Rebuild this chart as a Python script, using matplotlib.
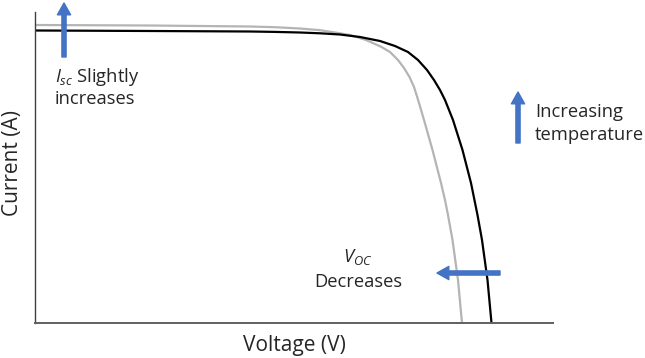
import matplotlib
matplotlib.use("Agg")
import matplotlib.pyplot as plt

v_cool = [0.0, 11.5, 21.5, 24.0, 26.5, 28.5, 30.5, 32.5, 34.5, 36.0, 37.3,
          38.3, 39.2, 39.9, 40.5, 41.0, 41.8, 42.75, 43.6, 44.25, 44.7,
          45.25, 45.65]
i_cool = [29.25, 29.2, 29.15, 29.11, 29.05, 28.97, 28.85, 28.6, 28.2, 27.7,
          27.1, 26.3, 25.3, 24.3, 23.3, 22.3, 20.3, 17.3, 14.0, 10.8, 8.3,
          4.3, 0.0]

v_hot = [0.0, 11.5, 21.5, 24.0, 26.5, 28.5, 30.0, 31.5, 33.1, 34.6, 35.5,
         36.3, 36.9, 37.45, 37.9, 38.22, 38.55, 38.9, 39.75, 40.6, 41.0,
         41.3, 41.75, 42.3, 42.7]
i_hot = [29.8, 29.75, 29.65, 29.58, 29.45, 29.28, 29.05, 28.8, 28.3, 27.63,
         27.1, 26.3, 25.5, 24.6, 23.6, 22.6, 21.5, 20.3, 17.3, 14.0, 12.3,
         10.8, 8.3, 4.3, 0.0]

blue = "#4472C4"
txt = "#262626"
font = "Open Sans"

plt.rcParams["font.family"] = font
plt.rcParams["mathtext.fontset"] = "custom"
plt.rcParams["mathtext.it"] = font + ":italic"
plt.rcParams["mathtext.rm"] = font

fig = plt.figure(figsize=(6.45, 3.58), dpi=100)
ax = fig.add_axes([35 / 645, 35 / 358, 518 / 645, 311 / 358])

ax.plot(v_hot, i_hot, color="#b4b4b4", lw=1.6, solid_joinstyle="round")
ax.plot(v_cool, i_cool, color="black", lw=1.6, solid_joinstyle="round")

ax.set_xlim(0, 51.8)
ax.set_ylim(0, 31.1)
ax.set_xticks([])
ax.set_yticks([])
for side in ("top", "right"):
    ax.spines[side].set_visible(False)
ax.spines["left"].set_color("#404040")
ax.spines["left"].set_linewidth(1.0)
ax.spines["bottom"].set_color("#606060")
ax.spines["bottom"].set_linewidth(1.4)

arrow = dict(arrowstyle="simple,head_width=0.95,head_length=0.85,tail_width=0.3",
             color=blue, shrinkA=0, shrinkB=0, mutation_scale=10)
fs = 13.2

# Isc goes up slightly
ax.annotate("", xy=(2.9, 32.0), xytext=(2.9, 26.6), arrowprops=arrow,
            annotation_clip=False)
ax.text(2.0, 24.6, r"$I_{sc}$ Slightly", fontsize=fs, color=txt,
        va="center", ha="left")
ax.text(2.0, 22.4, "increases", fontsize=fs, color=txt,
        va="center", ha="left")

# temperature rises
ax.annotate("", xy=(48.3, 23.1), xytext=(48.3, 18.0), arrowprops=arrow,
            annotation_clip=False)
ax.text(50.0, 21.1, "Increasing", fontsize=fs, color=txt,
        va="center", ha="left", clip_on=False)
ax.text(50.0, 18.8, "temperature", fontsize=fs, color=txt,
        va="center", ha="left", clip_on=False)

# Voc drops
ax.annotate("", xy=(40.2, 5.0), xytext=(46.5, 5.0), arrowprops=arrow)
ax.text(32.3, 6.6, r"$V_{OC}$", fontsize=fs, color=txt,
        va="center", ha="center")
ax.text(32.3, 4.1, "Decreases", fontsize=fs, color=txt,
        va="center", ha="center")

ax.text(25.9, -2.3, "Voltage (V)", fontsize=15, color=txt,
        va="center", ha="center", clip_on=False)
ax.text(-2.2, 16.0, "Current (A)", fontsize=15, color=txt, rotation=90,
        va="center", ha="center", clip_on=False)

fig.savefig("out.png", dpi=100)
